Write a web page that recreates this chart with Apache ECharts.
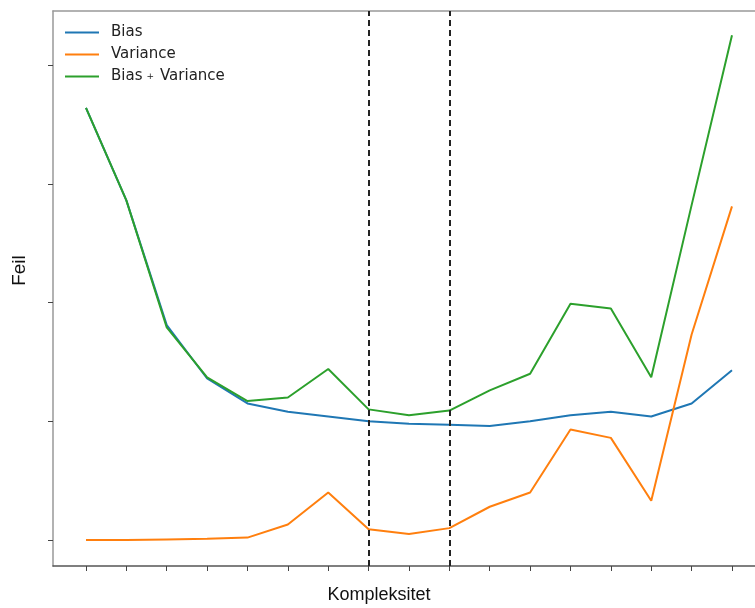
<!DOCTYPE html>
<html>
<head>
    <meta charset="utf-8">
    <title>Bias og varians</title>
    <script src="https://cdn.jsdelivr.net/npm/echarts@6/dist/echarts.min.js"></script>
</head>
<body style="margin:0">
    <div id="main" style="width:755px;height:608px;"></div>
    <script>
        // kompleksitet 0..16
        var complexity = [0, 1, 2, 3, 4, 5, 6, 7, 8, 9, 10, 11, 12, 13, 14, 15, 16];
        var bias = [3.64, 2.86, 1.81, 1.36, 1.15, 1.08, 1.04, 1.00, 0.98, 0.97, 0.96, 1.00, 1.05, 1.08, 1.04, 1.15, 1.43];
        var variance = [0.00, 0.00, 0.005, 0.01, 0.02, 0.13, 0.40, 0.09, 0.05, 0.10, 0.28, 0.40, 0.93, 0.86, 0.33, 1.73, 2.81];
        var total = [3.64, 2.86, 1.79, 1.37, 1.17, 1.20, 1.44, 1.10, 1.05, 1.09, 1.26, 1.40, 1.99, 1.95, 1.37, 2.82, 4.25];
        var cutoffs = [7, 9];
        var yTicks = [0, 1, 2, 3, 4];

        function pairs(vals) {
            return complexity.map(function (c, i) { return [c, vals[i]]; });
        }

        var myChart = echarts.init(document.getElementById('main'));

        var option = {
            animation: false,
            grid: { left: 53, top: 11, right: 0, bottom: 42, outerBoundsMode: 'none' },
            legend: {
                left: 60,
                top: 20,
                orient: 'vertical',
                itemGap: 7,
                itemWidth: 34,
                itemHeight: 15,
                icon: 'path://M0,6 L34,6 L34,8 L0,8 Z',
                textStyle: {
                    fontFamily: 'DejaVu Sans',
                    fontSize: 15,
                    color: '#222',
                    padding: [0, 0, 0, 7],
                    rich: {
                        p: { fontSize: 9, fontFamily: 'DejaVu Sans', color: '#222', padding: [0, 6, 0, 4] }
                    }
                },
                formatter: function (name) {
                    return name === 'Bias + Variance' ? 'Bias{p|+}Variance' : name;
                },
                data: ['Bias', 'Variance', 'Bias + Variance']
            },
            xAxis: [{
                type: 'value',
                min: -0.817,
                max: 16.57,
                name: 'Kompleksitet',
                nameLocation: 'middle',
                nameGap: 20,
                nameTextStyle: { fontFamily: 'Liberation Sans', fontSize: 18, color: '#111', padding: [0, 50, 0, 0] },
                axisLine: { onZero: false, lineStyle: { color: '#555', width: 1.5 } },
                axisTick: { customValues: complexity, length: 5, lineStyle: { color: '#444' } },
                axisLabel: { show: false },
                splitLine: { show: false }
            }, {
                type: 'value',
                position: 'top',
                min: -0.817,
                max: 16.57,
                axisLine: { show: true, onZero: false, lineStyle: { color: '#999', width: 1.5 } },
                axisTick: { show: false },
                axisLabel: { show: false },
                splitLine: { show: false }
            }],
            yAxis: {
                type: 'value',
                min: -0.219,
                max: 4.455,
                name: 'Feil',
                nameLocation: 'middle',
                nameGap: 24,
                nameTextStyle: { fontFamily: 'Liberation Sans', fontSize: 19, color: '#111', padding: [0, 0, 0, 36] },
                axisLine: { show: true, onZero: false, lineStyle: { color: '#999', width: 1.5 } },
                axisTick: { show: true, customValues: yTicks, length: 5, lineStyle: { color: '#444' } },
                axisLabel: { show: false },
                splitLine: { show: false }
            },
            series: [{
                name: 'Bias',
                type: 'line',
                data: pairs(bias),
                showSymbol: false,
                lineStyle: { color: '#1f77b4', width: 2 },
                itemStyle: { color: '#1f77b4' },
                markLine: {
                    silent: true,
                    symbol: 'none',
                    label: { show: false },
                    lineStyle: { color: '#222', type: [6, 4], width: 2 },
                    data: cutoffs.map(function (c) { return { xAxis: c }; })
                }
            }, {
                name: 'Variance',
                type: 'line',
                data: pairs(variance),
                showSymbol: false,
                lineStyle: { color: '#ff7f0e', width: 2 },
                itemStyle: { color: '#ff7f0e' }
            }, {
                name: 'Bias + Variance',
                type: 'line',
                data: pairs(total),
                showSymbol: false,
                lineStyle: { color: '#2ca02c', width: 2 },
                itemStyle: { color: '#2ca02c' }
            }]
        };

        myChart.setOption(option);
    </script>
</body>
</html>
